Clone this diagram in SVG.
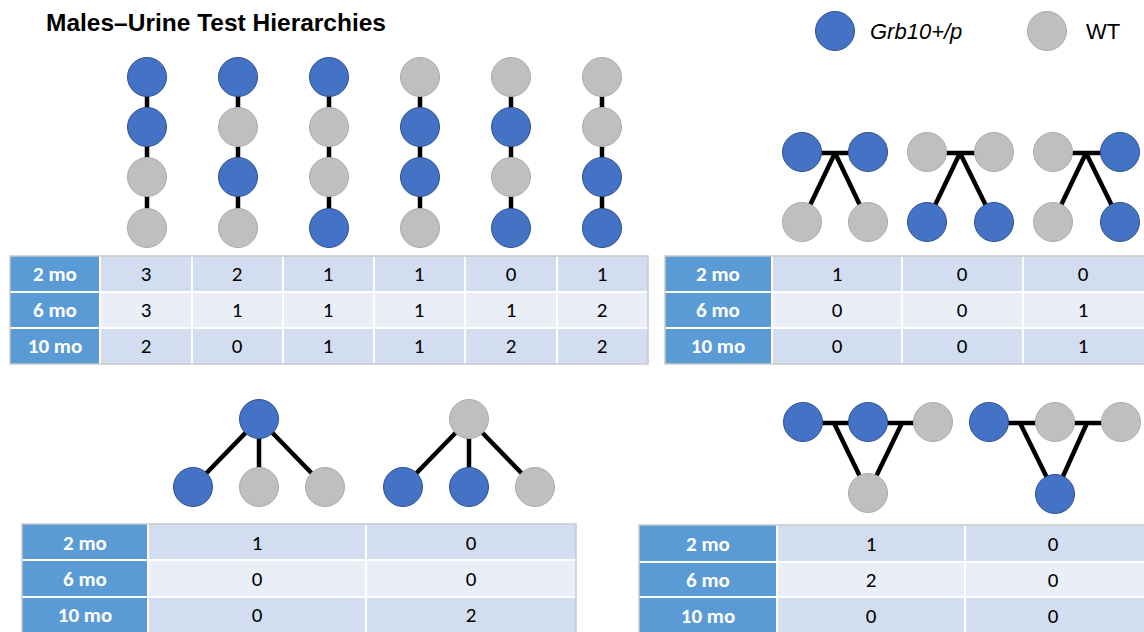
<svg xmlns="http://www.w3.org/2000/svg" width="1144" height="632" viewBox="0 0 1144 632">
<defs>
<style>
.b{fill:#4472C4;stroke:#2F528F;stroke-width:1}
.g{fill:#BFBFBF;stroke:#ABABAB;stroke-width:1}
.ln{stroke:#000;stroke-width:4.5;fill:none}
.hd{fill:#5B9BD5}
.r1{fill:#D2DEEF}
.r2{fill:#E9EEF7}
.sep{stroke:#FFFFFF;stroke-width:2}
.bd{fill:none;stroke:#C9C9C9;stroke-width:1.5}
.ht{font-family:Carlito,Lato,"Open Sans",sans-serif;font-weight:bold;font-size:21px;fill:#FFFFFF;text-anchor:middle}
.nt{font-family:Carlito,Lato,"Open Sans",sans-serif;font-size:21px;fill:#000;text-anchor:middle}
</style>
</defs>
<rect width="1144" height="632" fill="#FFFFFF"/>
<text id="title" x="46" y="31" font-family="Liberation Sans, Arial, sans-serif" font-weight="bold" font-size="24.5">Males–Urine Test Hierarchies</text>

<g id="legend">
<circle class="b" cx="835" cy="31" r="19.5"/>
<text x="870" y="39" font-family="Liberation Sans, Arial, sans-serif" font-style="italic" font-size="22">Grb10+/p</text>
<circle class="g" cx="1047" cy="31" r="19.5"/>
<text x="1086" y="39" font-family="Liberation Sans, Arial, sans-serif" font-size="22">WT</text>
</g>

<g id="connectors">
<line class="ln" x1="147" y1="77" x2="147" y2="228"/>
<line class="ln" x1="238" y1="77" x2="238" y2="228"/>
<line class="ln" x1="329" y1="77" x2="329" y2="228"/>
<line class="ln" x1="420" y1="77" x2="420" y2="228"/>
<line class="ln" x1="511" y1="77" x2="511" y2="228"/>
<line class="ln" x1="602" y1="77" x2="602" y2="228"/>
<line class="ln" x1="802" y1="153" x2="868" y2="153"/>
<line class="ln" x1="835" y1="153" x2="802" y2="222"/>
<line class="ln" x1="835" y1="153" x2="868" y2="222"/>
<line class="ln" x1="927" y1="153" x2="994" y2="153"/>
<line class="ln" x1="960" y1="153" x2="927" y2="222"/>
<line class="ln" x1="960" y1="153" x2="994" y2="222"/>
<line class="ln" x1="1053" y1="153" x2="1120" y2="153"/>
<line class="ln" x1="1086" y1="153" x2="1053" y2="222"/>
<line class="ln" x1="1086" y1="153" x2="1120" y2="222"/>
<line class="ln" x1="259" y1="419" x2="193" y2="487"/>
<line class="ln" x1="259" y1="419" x2="259" y2="487"/>
<line class="ln" x1="259" y1="419" x2="325" y2="487"/>
<line class="ln" x1="469" y1="419" x2="403" y2="487"/>
<line class="ln" x1="469" y1="419" x2="469" y2="487"/>
<line class="ln" x1="469" y1="419" x2="535" y2="487"/>
<line class="ln" x1="803" y1="423" x2="933" y2="423"/>
<line class="ln" x1="834" y1="423" x2="868" y2="493"/>
<line class="ln" x1="902" y1="423" x2="868" y2="493"/>
<line class="ln" x1="989" y1="423" x2="1121" y2="423"/>
<line class="ln" x1="1020" y1="423" x2="1055" y2="494"/>
<line class="ln" x1="1087" y1="423" x2="1055" y2="494"/>
</g>

<g id="chain1">
<circle class="b" cx="147" cy="77" r="19.5"/><circle class="b" cx="147" cy="127" r="19.5"/><circle class="g" cx="147" cy="177" r="19.5"/><circle class="g" cx="147" cy="228" r="19.5"/>
</g>
<g id="chain2">
<circle class="b" cx="238" cy="77" r="19.5"/><circle class="g" cx="238" cy="127" r="19.5"/><circle class="b" cx="238" cy="177" r="19.5"/><circle class="g" cx="238" cy="228" r="19.5"/>
</g>
<g id="chain3">
<circle class="b" cx="329" cy="77" r="19.5"/><circle class="g" cx="329" cy="127" r="19.5"/><circle class="g" cx="329" cy="177" r="19.5"/><circle class="b" cx="329" cy="228" r="19.5"/>
</g>
<g id="chain4">
<circle class="g" cx="420" cy="77" r="19.5"/><circle class="b" cx="420" cy="127" r="19.5"/><circle class="b" cx="420" cy="177" r="19.5"/><circle class="g" cx="420" cy="228" r="19.5"/>
</g>
<g id="chain5">
<circle class="g" cx="511" cy="77" r="19.5"/><circle class="b" cx="511" cy="127" r="19.5"/><circle class="g" cx="511" cy="177" r="19.5"/><circle class="b" cx="511" cy="228" r="19.5"/>
</g>
<g id="chain6">
<circle class="g" cx="602" cy="77" r="19.5"/><circle class="g" cx="602" cy="127" r="19.5"/><circle class="b" cx="602" cy="177" r="19.5"/><circle class="b" cx="602" cy="228" r="19.5"/>
</g>

<g id="pair1">
<circle class="b" cx="802" cy="152" r="19.5"/><circle class="b" cx="868" cy="152" r="19.5"/><circle class="g" cx="802" cy="222" r="19.5"/><circle class="g" cx="868" cy="222" r="19.5"/>
</g>
<g id="pair2">
<circle class="g" cx="927" cy="152" r="19.5"/><circle class="g" cx="994" cy="152" r="19.5"/><circle class="b" cx="927" cy="222" r="19.5"/><circle class="b" cx="994" cy="222" r="19.5"/>
</g>
<g id="pair3">
<circle class="g" cx="1053" cy="152" r="19.5"/><circle class="b" cx="1120" cy="152" r="19.5"/><circle class="g" cx="1053" cy="222" r="19.5"/><circle class="b" cx="1120" cy="222" r="19.5"/>
</g>

<g id="star1">
<circle class="b" cx="259" cy="419" r="19.5"/><circle class="b" cx="193" cy="487" r="19.5"/><circle class="g" cx="259" cy="487" r="19.5"/><circle class="g" cx="325" cy="487" r="19.5"/>
</g>
<g id="star2">
<circle class="g" cx="469" cy="419" r="19.5"/><circle class="b" cx="403" cy="487" r="19.5"/><circle class="b" cx="469" cy="487" r="19.5"/><circle class="g" cx="535" cy="487" r="19.5"/>
</g>

<g id="tri1">
<circle class="b" cx="803" cy="422" r="19.5"/><circle class="b" cx="868" cy="422" r="19.5"/><circle class="g" cx="933" cy="422" r="19.5"/><circle class="g" cx="868" cy="493" r="19.5"/>
</g>
<g id="tri2">
<circle class="b" cx="989" cy="422" r="19.5"/><circle class="g" cx="1055" cy="422" r="19.5"/><circle class="g" cx="1121" cy="422" r="19.5"/><circle class="b" cx="1055" cy="494" r="19.5"/>
</g>

<g id="table1">
<rect class="r1" x="10" y="256" width="638" height="36"/>
<rect class="r2" x="10" y="292" width="638" height="36"/>
<rect class="r1" x="10" y="328" width="638" height="36"/>
<rect class="hd" x="10" y="256" width="90" height="108"/>
<line class="sep" x1="100" y1="256" x2="100" y2="364"/>
<line class="sep" x1="192" y1="256" x2="192" y2="364"/>
<line class="sep" x1="283" y1="256" x2="283" y2="364"/>
<line class="sep" x1="374" y1="256" x2="374" y2="364"/>
<line class="sep" x1="465" y1="256" x2="465" y2="364"/>
<line class="sep" x1="557" y1="256" x2="557" y2="364"/>
<line class="sep" x1="10" y1="292" x2="648" y2="292"/>
<line class="sep" x1="10" y1="328" x2="648" y2="328"/>
<rect class="bd" x="10" y="256" width="638" height="108"/>
<text class="ht" x="55" y="281">2 mo</text>
<text class="ht" x="55" y="317">6 mo</text>
<text class="ht" x="55" y="353">10 mo</text>
<text class="nt" x="146" y="281">3</text><text class="nt" x="237" y="281">2</text><text class="nt" x="328" y="281">1</text><text class="nt" x="419" y="281">1</text><text class="nt" x="511" y="281">0</text><text class="nt" x="602" y="281">1</text>
<text class="nt" x="146" y="317">3</text><text class="nt" x="237" y="317">1</text><text class="nt" x="328" y="317">1</text><text class="nt" x="419" y="317">1</text><text class="nt" x="511" y="317">1</text><text class="nt" x="602" y="317">2</text>
<text class="nt" x="146" y="353">2</text><text class="nt" x="237" y="353">0</text><text class="nt" x="328" y="353">1</text><text class="nt" x="419" y="353">1</text><text class="nt" x="511" y="353">2</text><text class="nt" x="602" y="353">2</text>
</g>

<g id="table2">
<rect class="r1" x="665" y="256" width="481" height="36"/>
<rect class="r2" x="665" y="292" width="481" height="36"/>
<rect class="r1" x="665" y="328" width="481" height="36"/>
<rect class="hd" x="665" y="256" width="107" height="108"/>
<line class="sep" x1="772" y1="256" x2="772" y2="364"/>
<line class="sep" x1="902" y1="256" x2="902" y2="364"/>
<line class="sep" x1="1023" y1="256" x2="1023" y2="364"/>
<line class="sep" x1="665" y1="292" x2="1146" y2="292"/>
<line class="sep" x1="665" y1="328" x2="1146" y2="328"/>
<rect class="bd" x="665" y="256" width="481" height="108"/>
<text class="ht" x="718" y="281">2 mo</text>
<text class="ht" x="718" y="317">6 mo</text>
<text class="ht" x="718" y="353">10 mo</text>
<text class="nt" x="837" y="281">1</text><text class="nt" x="962" y="281">0</text><text class="nt" x="1083" y="281">0</text>
<text class="nt" x="837" y="317">0</text><text class="nt" x="962" y="317">0</text><text class="nt" x="1083" y="317">1</text>
<text class="nt" x="837" y="353">0</text><text class="nt" x="962" y="353">0</text><text class="nt" x="1083" y="353">1</text>
</g>

<g id="table3">
<rect class="r1" x="22" y="524" width="554" height="36"/>
<rect class="r2" x="22" y="560" width="554" height="37"/>
<rect class="r1" x="22" y="597" width="554" height="37"/>
<rect class="hd" x="22" y="524" width="126" height="110"/>
<line class="sep" x1="148" y1="524" x2="148" y2="634"/>
<line class="sep" x1="366" y1="524" x2="366" y2="634"/>
<line class="sep" x1="22" y1="560" x2="576" y2="560"/>
<line class="sep" x1="22" y1="597" x2="576" y2="597"/>
<rect class="bd" x="22" y="524" width="554" height="112"/>
<text class="ht" x="85" y="550">2 mo</text>
<text class="ht" x="85" y="586">6 mo</text>
<text class="ht" x="85" y="622">10 mo</text>
<text class="nt" x="257" y="550">1</text><text class="nt" x="471" y="550">0</text>
<text class="nt" x="257" y="586">0</text><text class="nt" x="471" y="586">0</text>
<text class="nt" x="257" y="622">0</text><text class="nt" x="471" y="622">2</text>
</g>

<g id="table4">
<rect class="r1" x="639" y="525" width="507" height="37"/>
<rect class="r2" x="639" y="562" width="507" height="35"/>
<rect class="r1" x="639" y="597" width="507" height="37"/>
<rect class="hd" x="639" y="525" width="138" height="109"/>
<line class="sep" x1="777" y1="525" x2="777" y2="634"/>
<line class="sep" x1="965" y1="525" x2="965" y2="634"/>
<line class="sep" x1="639" y1="562" x2="1146" y2="562"/>
<line class="sep" x1="639" y1="597" x2="1146" y2="597"/>
<rect class="bd" x="639" y="525" width="507" height="111"/>
<text class="ht" x="708" y="551">2 mo</text>
<text class="ht" x="708" y="587">6 mo</text>
<text class="ht" x="708" y="623">10 mo</text>
<text class="nt" x="871" y="551">1</text><text class="nt" x="1053" y="551">0</text>
<text class="nt" x="871" y="587">2</text><text class="nt" x="1053" y="587">0</text>
<text class="nt" x="871" y="623">0</text><text class="nt" x="1053" y="623">0</text>
</g>
</svg>
